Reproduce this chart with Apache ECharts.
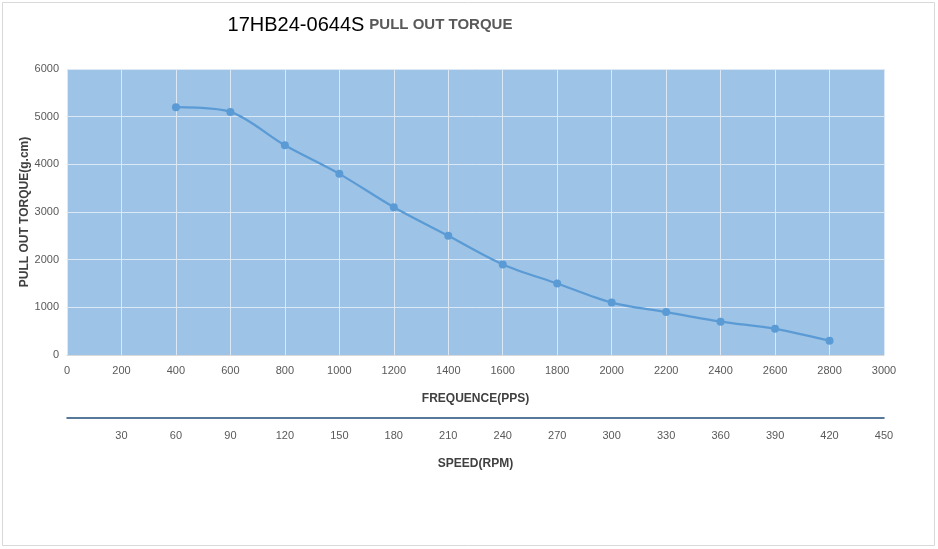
<!DOCTYPE html>
<html>
<head>
<meta charset="utf-8">
<script src="https://cdn.jsdelivr.net/npm/echarts@6/dist/echarts.min.js"></script>
<style>
  html, body { margin: 0; padding: 0; background: #fff; }
  #chart { width: 938px; height: 549px; }
</style>
</head>
<body>
<div id="chart"></div>
<script>
// 牵出力矩曲线
var freqPps = [400, 600, 800, 1000, 1200, 1400, 1600, 1800, 2000, 2200, 2400, 2600, 2800];
var torque = [5200, 5100, 4400, 3800, 3100, 2500, 1900, 1500, 1100, 900, 700, 550, 300];
var speedMax = 450;
var speedStep = 30;

var chart = echarts.init(document.getElementById('chart'), null, { renderer: 'canvas' });

var points = freqPps.map(function (f, i) { return [f, torque[i]]; });

var labelStyle = { color: '#595959', fontSize: 11, fontFamily: 'Liberation Sans' };
var plain = function (v) { return String(v); };

var option = {
  backgroundColor: '#ffffff',
  animation: false,
  title: {
    text: '{a|17HB24-0644S} {b|PULL OUT TORQUE}',
    left: 365,
    top: 10,
    textAlign: 'center',
    textStyle: {
      rich: {
        a: { fontSize: 20, fontWeight: 'normal', color: '#000000', fontFamily: 'Liberation Sans' },
        b: { fontSize: 15, fontWeight: 'bold', color: '#595959', fontFamily: 'Liberation Sans' }
      }
    }
  },
  graphic: [{
    type: 'rect',
    shape: { x: 2.5, y: 2.5, width: 932, height: 543 },
    style: { fill: 'none', stroke: '#d9d9d9', lineWidth: 1 },
    silent: true
  }],
  grid: [
    {
      left: 67, right: 54, top: 69, bottom: 194,
      show: true, backgroundColor: '#9dc3e6', borderWidth: 0
    },
    {
      left: 67, right: 54, top: 417, height: 1,
      show: false
    }
  ],
  xAxis: [
    {
      type: 'value', gridIndex: 0, min: 0, max: 3000, interval: 200,
      name: 'FREQUENCE(PPS)', nameLocation: 'middle', nameGap: 38,
      nameTextStyle: { color: '#404040', fontSize: 12, fontWeight: 'bold', fontFamily: 'Liberation Sans' },
      axisLine: { show: true, lineStyle: { color: '#d9d9d9' } },
      axisTick: { show: false },
      axisLabel: Object.assign({ margin: 10, formatter: plain }, labelStyle),
      splitLine: { show: true, lineStyle: { color: '#dce9f5', width: 1 } }
    },
    {
      type: 'value', gridIndex: 1, min: 0, max: speedMax, interval: speedStep,
      name: 'SPEED(RPM)', nameLocation: 'middle', nameGap: 40,
      nameTextStyle: { color: '#404040', fontSize: 12, fontWeight: 'bold', fontFamily: 'Liberation Sans' },
      axisLine: { show: true, lineStyle: { color: '#1f4e79', width: 1.5 } },
      axisTick: { show: false },
      axisLabel: Object.assign({
        margin: 12,
        formatter: function (v) { return v === 0 ? '' : String(v); }
      }, labelStyle),
      splitLine: { show: false }
    }
  ],
  yAxis: [
    {
      type: 'value', gridIndex: 0, min: 0, max: 6000, interval: 1000,
      name: 'PULL OUT TORQUE(g.cm)', nameLocation: 'middle', nameGap: 36,
      nameMoveOverlap: false,
      nameTextStyle: { color: '#404040', fontSize: 12, fontWeight: 'bold', fontFamily: 'Liberation Sans' },
      axisLine: { show: false },
      axisTick: { show: false },
      axisLabel: Object.assign({ margin: 8, formatter: plain }, labelStyle),
      splitLine: { show: true, lineStyle: { color: '#dce9f5', width: 1 } }
    },
    {
      type: 'value', gridIndex: 1, show: false
    }
  ],
  series: [{
    type: 'line',
    xAxisIndex: 0, yAxisIndex: 0,
    data: points,
    smooth: 0.3,
    symbol: 'circle',
    symbolSize: 8,
    lineStyle: { color: '#5b9bd5', width: 2.25 },
    itemStyle: { color: '#5b9bd5' }
  }]
};

chart.setOption(option);
</script>
</body>
</html>
